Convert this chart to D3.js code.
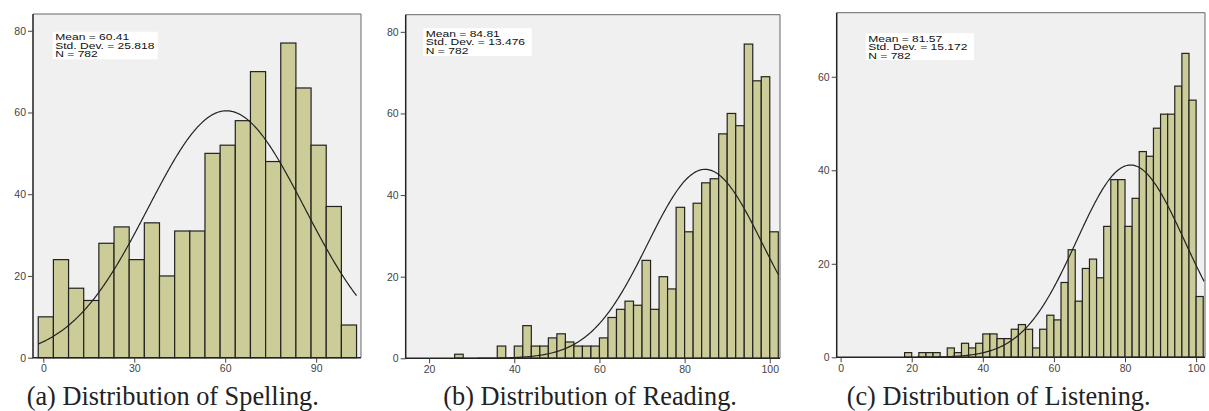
<!DOCTYPE html>
<html>
<head>
<meta charset="utf-8">
<script src="https://cdn.jsdelivr.net/npm/d3@7"></script>
<style>
  body { margin: 0; background: #fff; }
  svg { display: block; }
</style>
</head>
<body>
<svg id="chart"></svg>
<script>
// bin lower edges and counts
const spellingBins = [-1.67, 3.33, 8.33, 13.33, 18.33, 23.33, 28.33, 33.33, 38.33, 43.33, 48.33,
  53.33, 58.33, 63.33, 68.33, 73.33, 78.33, 83.33, 88.33, 93.33, 98.33];
const spellingCounts = [10, 24, 17, 14, 28, 32, 24, 33, 20, 31, 31, 50, 52, 58, 70, 48, 77, 66, 52, 37, 8];

const readingBins = [26, 36, 40, 42, 44, 46, 48, 50, 52, 54, 56, 58, 60, 62, 64, 66, 68, 70, 72, 74,
  76, 78, 80, 82, 84, 86, 88, 90, 92, 94, 96, 98, 100];
const readingCounts = [1, 3, 3, 8, 3, 3, 5, 6, 4, 3, 3, 3, 5, 10, 12, 14, 13, 24, 12, 20,
  17, 37, 31, 38, 43, 44, 55, 60, 57, 77, 68, 69, 31];

const listeningBins = [18, 22, 24, 26, 30, 32, 34, 36, 38, 40, 42, 44, 46, 48, 50, 52, 54, 56, 58, 60,
  62, 64, 66, 68, 70, 72, 74, 76, 78, 80, 82, 84, 86, 88, 90, 92, 94, 96, 98, 100];
const listeningCounts = [1, 1, 1, 1, 2, 1, 3, 2, 3, 5, 5, 4, 4, 6, 7, 6, 2, 6, 9, 8,
  16, 23, 12, 19, 21, 17, 28, 38, 38, 28, 34, 44, 43, 49, 52, 52, 58, 65, 55, 13];

const binWidths = [5, 2, 2];
const means = [60.41, 84.81, 81.57];
const stdDevs = [25.818, 13.476, 15.172];
const counts = [782, 782, 782];
const statLabels = [
  ["Mean = 60.41", "Std. Dev. = 25.818", "N = 782"],
  ["Mean = 84.81", "Std. Dev. = 13.476", "N = 782"],
  ["Mean = 81.57", "Std. Dev. = 15.172", "N = 782"]
];
const xTicks = [[0, 30, 60, 90], [20, 40, 60, 80, 100], [0, 20, 40, 60, 80, 100]];
const yTicks = [[0, 20, 40, 60, 80], [0, 20, 40, 60, 80], [0, 20, 40, 60]];
const captions = ["(a) Distribution of Spelling.", "(b) Distribution of Reading.", "(c) Distribution of Listening."];

const W = 1209, H = 411;
const svg = d3.select("#chart").attr("width", W).attr("height", H);

// frame geometry of each panel
const panels = [
  { bins: spellingBins, values: spellingCounts, x0: 33, x1: 361, y0: 14, y1: 357.7, xd: [-3.4, 104.8], yMax: 84.1,
    box: [52.7, 31.7, 105, 27.6], capX: 26.7, curve: [-1.67, 103.5] },
  { bins: readingBins, values: readingCounts, x0: 405.7, x1: 780, y0: 14.7, y1: 358.3, xd: [14.5, 102.4], yMax: 84.2,
    box: [423.3, 28.3, 108.4, 27.7], capX: 443.3, curve: [26, 102] },
  { bins: listeningBins, values: listeningCounts, x0: 836.7, x1: 1205, y0: 12.7, y1: 357.3, xd: [-1.1, 102.5], yMax: 73.7,
    box: [865.7, 33.3, 108.3, 26.7], capX: 846.7, curve: [18, 102.4] }
];

panels.forEach((p, k) => {
  const x = d3.scaleLinear().domain(p.xd).range([p.x0, p.x1]);
  const y = d3.scaleLinear().domain([0, p.yMax]).range([p.y1, p.y0]);
  const g = svg.append("g");

  g.append("rect")
    .attr("x", p.x0).attr("y", p.y0)
    .attr("width", p.x1 - p.x0).attr("height", p.y1 - p.y0)
    .attr("fill", "#f0f0f0");

  g.selectAll("rect.bar")
    .data(p.values)
    .enter()
    .append("rect")
    .attr("class", "bar")
    .attr("x", (d, i) => x(p.bins[i]))
    .attr("width", (d, i) => x(p.bins[i] + binWidths[k]) - x(p.bins[i]))
    .attr("y", (d) => y(d))
    .attr("height", (d) => y(0) - y(d))
    .attr("fill", "#cccc99")
    .attr("stroke", "#222")
    .attr("stroke-width", 1.2);

  // fitted normal curve scaled to counts
  const scale = counts[k] * binWidths[k] / (stdDevs[k] * Math.sqrt(2 * Math.PI));
  const pts = d3.range(p.curve[0], p.curve[1] + 0.01, 0.25).map((v) => {
    const z = (v - means[k]) / stdDevs[k];
    return [v, scale * Math.exp(-0.5 * z * z)];
  });
  g.append("path")
    .datum(pts)
    .attr("fill", "none")
    .attr("stroke", "#222")
    .attr("stroke-width", 1.2)
    .attr("d", d3.line().x((d) => x(d[0])).y((d) => y(d[1])));

  // frame: top/right light, left/bottom dark
  g.append("path")
    .attr("d", `M${p.x0},${p.y0}H${p.x1}V${p.y1}`)
    .attr("fill", "none").attr("stroke", "#666").attr("stroke-width", 1);
  g.append("path")
    .attr("d", `M${p.x0},${p.y0}V${p.y1}H${p.x1}`)
    .attr("fill", "none").attr("stroke", "#222").attr("stroke-width", 1.5);

  const yAxis = g.append("g")
    .attr("transform", `translate(${p.x0},0)`)
    .call(d3.axisLeft(y).tickValues(yTicks[k]).tickSize(5).tickPadding(2).tickSizeOuter(0));
  const xAxis = g.append("g")
    .attr("transform", `translate(0,${p.y1})`)
    .call(d3.axisBottom(x).tickValues(xTicks[k]).tickSize(5).tickPadding(2).tickSizeOuter(0));
  [yAxis, xAxis].forEach((a) => {
    a.select(".domain").remove();
    a.selectAll("line").attr("stroke", "#444");
    a.selectAll("text")
      .attr("fill", "#444")
      .style("font-family", "'Liberation Sans', Arial, sans-serif")
      .style("font-size", "10.5px");
  });

  // statistics box
  const b = p.box;
  g.append("rect")
    .attr("x", b[0]).attr("y", b[1]).attr("width", b[2]).attr("height", b[3])
    .attr("fill", "#fff");
  const t = g.append("g").attr("transform", `translate(${b[0] + 2.5},${b[1] + 8.3}) scale(1.27,1)`);
  statLabels[k].forEach((s, i) => {
    t.append("text")
      .attr("x", 0).attr("y", i * 8.7)
      .attr("fill", "#111")
      .style("font-family", "'Liberation Sans', Arial, sans-serif")
      .style("font-size", "9.5px")
      .text(s);
  });

  svg.append("text")
    .attr("x", p.capX).attr("y", 405)
    .attr("fill", "#222")
    .style("font-family", "'Liberation Serif', 'Times New Roman', serif")
    .style("font-size", "26.3px")
    .text(captions[k]);
});
</script>
</body>
</html>
